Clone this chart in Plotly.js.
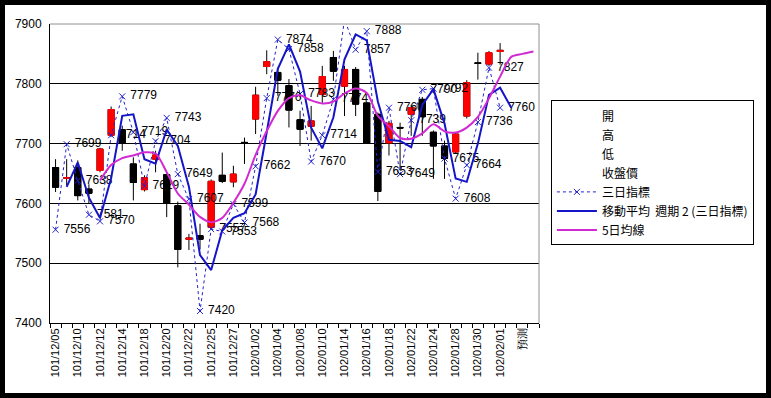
<!DOCTYPE html>
<html><head><meta charset="utf-8">
<script src="https://cdn.plot.ly/plotly-3.0.1.min.js"></script>
<style>
html,body{margin:0;padding:0;background:#000;width:771px;height:398px;overflow:hidden;}
#chart{position:absolute;left:5px;top:5px;width:761px;height:388px;background:#fff;}
</style></head><body>
<div id="chart"></div>
<script>
// categories (trading days + forecast)
const dates = ["101/12/05","101/12/07","101/12/10","101/12/11","101/12/12","101/12/13","101/12/14","101/12/17","101/12/18","101/12/19",
  "101/12/20","101/12/21","101/12/22","101/12/24","101/12/25","101/12/26","101/12/27","101/12/28","102/01/02","102/01/03",
  "102/01/04","102/01/07","102/01/08","102/01/09","102/01/10","102/01/11","102/01/14","102/01/15","102/01/16","102/01/17",
  "102/01/18","102/01/21","102/01/22","102/01/23","102/01/24","102/01/25","102/01/28","102/01/29","102/01/30","102/01/31",
  "102/02/01","102/02/04","預測","102/02/06"];

// 開 / 高 / 低 / 收盤價
const openP  = [7660,7642,7660,7624,7655,7714,7723,7666,7623,7674,7648,7596,7540,7546,7560,7647,7636,7702,7741,7829,
                7819,7797,7740,7729,7782,7844,7796,7824,7768,7749,7701,7727,7749,7774,7719,7696,7686,7746,7835,7833,7854];
const highP  = [7674,7674,7672,7632,7693,7762,7730,7677,7647,7688,7650,7603,7549,7566,7640,7685,7663,7710,7795,7856,
                7827,7808,7755,7763,7830,7855,7830,7828,7770,7752,7738,7735,7765,7778,7722,7705,7718,7806,7852,7855,7868];
const lowP   = [7619,7630,7605,7600,7652,7712,7688,7605,7620,7652,7577,7493,7522,7523,7556,7634,7627,7666,7716,7816,
                7780,7727,7696,7705,7768,7805,7746,7746,7700,7604,7680,7660,7713,7713,7641,7641,7684,7742,7807,7830,7832];
const closeP = [7627,7643,7613,7617,7691,7757,7701,7635,7643,7681,7601,7523,7542,7540,7637,7637,7649,7701,7781,7837,
                7806,7756,7724,7738,7812,7821,7824,7766,7701,7620,7734,7726,7760,7745,7696,7675,7716,7802,7834,7852,7856];

// 三日指標
const threeDay = [7556,7699,7638,7581,7570,7714,7779,7719,7629,7704,7743,7649,7607,7420,7557,7553,7599,7568,7662,7776,
                  7874,7858,7783,7670,7714,7774,7908,7857,7888,7653,7760,7649,7739,7790,7792,7675,7608,7664,7736,7827,
                  7760,null,null,null];
// 移動平均 週期 2 (三日指標)
const ma2 = [null,7627.5,7668.5,7609.5,7575.5,7642,7746.5,7749,7674,7666.5,7723.5,7696,7628,7513.5,7488.5,7555,7576,7583.5,7615,7719,
             7825,7866,7820.5,7726.5,7692,7744,7841,7882.5,7872.5,7770.5,7706.5,7704.5,7694,7764.5,7791,7733.5,7641.5,7636,7700,7781.5,
             7793.5,7760,null,null];
// 5日均線
const ma5 = [null,null,null,null,7638.2,7664.2,7675.8,7680.2,7685.4,7683.4,7652.2,7616.6,7598,7577.4,7568.6,7575.8,7601,7632.8,7681,7721,
             7754.8,7776.2,7780.8,7772.2,7767.2,7770.2,7783.8,7792.2,7784.8,7746.4,7729,7709.4,7708.2,7717,7732.2,7720.4,7718.4,7726.8,7744.6,7775.8,
             7812,7845,7850,7854];

const xs = dates.map((d, i) => i);
const xc = openP.map((d, i) => i);
const bodyHi = openP.map((o, i) => Math.max(o, closeP[i]));
const bodyLo = openP.map((o, i) => Math.min(o, closeP[i]));
const tickIdx = xs.filter(i => i % 2 === 0);

const hidden = (name, y) => ({type:'scatter', mode:'lines', name, x:xc, y,
  line:{color:'rgba(0,0,0,0)', width:0}, hoverinfo:'skip'});

const traces = [
  hidden('開', openP), hidden('高', highP), hidden('低', lowP), hidden('收盤價', closeP),
  {type:'candlestick', x:xc, open:openP, high:highP, low:lowP, close:closeP, showlegend:false, hoverinfo:'skip',
   increasing:{line:{color:'#000', width:1}, fillcolor:'#000'}, decreasing:{line:{color:'#000', width:1}, fillcolor:'#000'}},
  {type:'candlestick', x:xc, open:openP, high:bodyHi, low:bodyLo, close:closeP, showlegend:false, hoverinfo:'skip',
   increasing:{line:{color:'#ff0000', width:1}, fillcolor:'#ff0000'}, decreasing:{line:{color:'#000', width:1}, fillcolor:'#000'}},
  {type:'scatter', mode:'lines+markers+text', name:'三日指標', x:xs, y:threeDay,
   line:{color:'#2222cc', width:1, dash:'dot'},
   marker:{symbol:'x-thin-open', size:6, color:'#2222cc', line:{color:'#2222cc', width:1}},
   text:threeDay.map(v => v == null ? '' : ' ' + String(v)), textposition:'middle right',
   textfont:{family:'Liberation Sans', size:12, color:'#000'}, hoverinfo:'skip'},
  {type:'scatter', mode:'lines', name:'移動平均  週期 2 (三日指標)', x:xs, y:ma2,
   line:{color:'#1414c8', width:2}, hoverinfo:'skip'},
  {type:'scatter', mode:'lines', name:'5日均線', x:xs, y:ma5,
   line:{color:'#d22ad2', width:2, shape:'spline', smoothing:0.8}, hoverinfo:'skip'}
];

const layout = {
  width:761, height:388,
  margin:{l:45, r:225, t:19, b:70},
  paper_bgcolor:'#fff', plot_bgcolor:'#fff',
  font:{family:'Liberation Sans', color:'#000', size:12},
  showlegend:true,
  boxgap:0.45, boxgroupgap:0,
  xaxis:{type:'linear', range:[-0.5, 43.5], tickmode:'array', tickvals:tickIdx, ticktext:tickIdx.map(i => dates[i]),
         tickangle:-90, ticks:'', showgrid:false, zeroline:false, showline:true, linecolor:'#000', linewidth:1,
         tickfont:{family:'Liberation Sans', size:11, color:'#000'},
         minor:{tickmode:'linear', tick0:-0.5, dtick:1, ticks:'outside', ticklen:4, tickcolor:'#000', showgrid:false},
         rangeslider:{visible:false}, fixedrange:true},
  yaxis:{range:[7400, 7900], tickmode:'linear', tick0:7400, dtick:100, ticks:'', showgrid:true, gridcolor:'#000', gridwidth:1,
         zeroline:false, showline:true, linecolor:'#000', linewidth:1, ticklabelstandoff:5,
         tickfont:{family:'Liberation Sans', size:12, color:'#000'}, fixedrange:true},
  shapes:[
    {type:'line', xref:'paper', yref:'paper', x0:0, x1:1, y0:1, y1:1, line:{color:'#909090', width:1}, layer:'above'},
    {type:'line', xref:'paper', yref:'paper', x0:1, x1:1, y0:0, y1:1, line:{color:'#909090', width:1}, layer:'above'}
  ],
  legend:{x:1.0244, xanchor:'left', y:0.502, yanchor:'middle', bordercolor:'#000', borderwidth:1, bgcolor:'#fff',
          font:{family:'Noto Sans CJK TC', size:12, color:'#000'}, itemwidth:40, traceorder:'normal'}
};

Plotly.newPlot('chart', traces, layout, {displayModeBar:false, staticPlot:true});
</script>
</body></html>
